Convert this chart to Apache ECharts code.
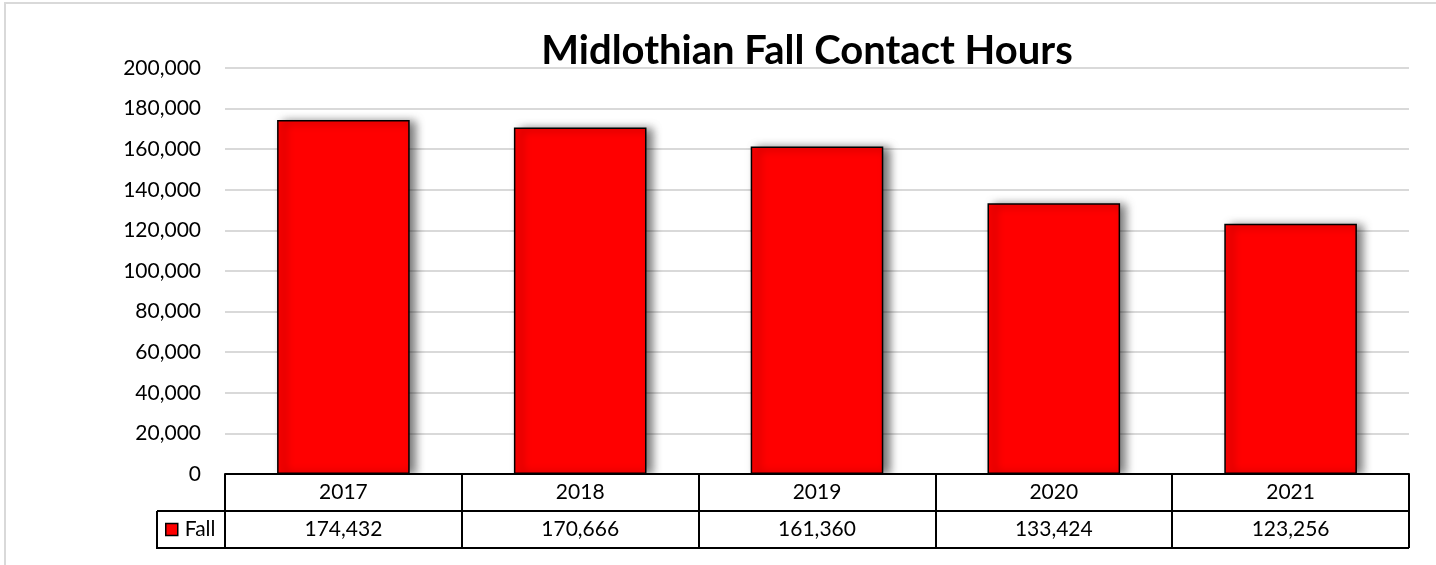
<!DOCTYPE html>
<html>
<head>
<meta charset="utf-8">
<script src="https://cdn.jsdelivr.net/npm/echarts@6/dist/echarts.min.js"></script>
<style>
  html, body { margin: 0; padding: 0; background: #fff; }
  #chart { width: 1436px; height: 565px; }
</style>
</head>
<body>
<div id="chart"></div>
<script>
// Fall contact hours by year
const years = ['2017', '2018', '2019', '2020', '2021'];
const fallHours = [174432, 170666, 161360, 133424, 123256];
const seriesName = 'Fall';
const titleText = 'Midlothian Fall Contact Hours';

const FONT = 'Lato, "Liberation Sans", sans-serif';
const fmt = v => v.toLocaleString('en-US');

// Plot area and data-table geometry
const W = 1436, H = 565;
const gridLeft = 225, gridRight = 27, gridTop = 68, gridBottom = 91;
const axisY = H - gridBottom;          // x axis / top edge of the table
const rowH = 37;                        // height of each table row
const legendCellLeft = 157;
const tableRight = W - gridRight;

const chart = echarts.init(document.getElementById('chart'), null, { renderer: 'canvas' });

chart.setOption({
  animation: false,
  backgroundColor: '#fff',
  title: {
    text: titleText,
    left: 802,
    top: 26,
    textAlign: 'center',
    textStyle: { fontFamily: FONT, fontSize: 40, fontWeight: 'bold', color: '#000' }
  },
  legend: {
    data: [seriesName],
    left: legendCellLeft + 8,
    top: axisY + rowH + 8,
    padding: 0,
    icon: 'rect',
    itemWidth: 12,
    itemHeight: 12,
    itemStyle: { shadowBlur: 0, shadowOffsetX: 0, shadowOffsetY: 0, borderColor: '#000', borderWidth: 1.5 },
    textStyle: { fontFamily: FONT, fontSize: 21, color: '#000', padding: [0, 0, 0, 2] }
  },
  grid: { left: gridLeft, right: gridRight, top: gridTop, bottom: gridBottom, containLabel: false },
  xAxis: {
    type: 'category',
    data: years,
    z: 10,
    axisLine: { lineStyle: { color: '#000', width: 2 } },
    axisTick: { show: true, interval: 0, length: rowH * 2, lineStyle: { color: '#000', width: 2 } },
    axisLabel: {
      interval: 0,
      margin: 0,
      formatter: (value, index) => `{y|${value}}\n{v|${fmt(fallHours[index])}}`,
      rich: {
        y: { fontFamily: FONT, fontSize: 21, color: '#000', lineHeight: rowH, align: 'center' },
        v: { fontFamily: FONT, fontSize: 21, color: '#000', lineHeight: rowH, align: 'center' }
      }
    }
  },
  yAxis: {
    type: 'value',
    min: 0,
    max: 200000,
    interval: 20000,
    axisLine: { show: false },
    axisTick: { show: false },
    axisLabel: {
      margin: 24,
      formatter: v => fmt(v),
      fontFamily: FONT, fontSize: 21, color: '#000'
    },
    splitLine: { lineStyle: { color: '#d9d9d9', width: 2 } }
  },
  series: [{
    name: seriesName,
    type: 'bar',
    data: fallHours,
    barWidth: '56%',
    z: 2,
    itemStyle: {
      color: '#ff0000',
      borderColor: '#000',
      borderWidth: 1.5,
      shadowColor: 'rgba(0,0,0,0.55)',
      shadowBlur: 9,
      shadowOffsetX: 6,
      shadowOffsetY: 1
    }
  }],
  graphic: [
    // keeps bar shadows out of the data table
    {
      type: 'rect', z: 5, silent: true,
      shape: { x: gridLeft, y: axisY + 1, width: tableRight - gridLeft + 12, height: rowH * 2 + 12 },
      style: { fill: '#fff' }
    },
    // chart frame
    {
      type: 'rect', z: 20, silent: true,
      shape: { x: 5, y: 3, width: W + 20, height: H + 20 },
      style: { fill: 'none', stroke: '#d9d9d9', lineWidth: 2 }
    },
    // data table rules
    {
      type: 'polyline', z: 20, silent: true,
      shape: { points: [[legendCellLeft, axisY + rowH], [tableRight, axisY + rowH]] },
      style: { stroke: '#000', lineWidth: 2, fill: 'none' }
    },
    {
      type: 'polyline', z: 20, silent: true,
      shape: { points: [[tableRight, axisY + rowH * 2], [legendCellLeft, axisY + rowH * 2], [legendCellLeft, axisY + rowH]] },
      style: { stroke: '#000', lineWidth: 2, fill: 'none' }
    }
  ]
});
</script>
</body>
</html>
